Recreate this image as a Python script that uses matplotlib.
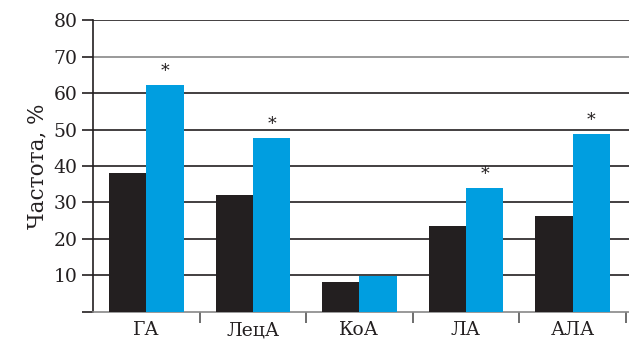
import matplotlib
matplotlib.use("Agg")
import matplotlib.pyplot as plt
import numpy as np

categories = ["ГА", "ЛецА", "КоА", "ЛА", "АЛА"]
group_a = [38, 32, 8, 23.5, 26.3]
group_b = [62.2, 47.8, 9.9, 34, 48.9]
significant = [True, True, False, True, True]
y_ticks = [0, 10, 20, 30, 40, 50, 60, 70, 80]
y_tick_labels = ["", "10", "20", "30", "40", "50", "60", "70", "80"]

plt.rcParams["font.family"] = ["DejaVu Serif"]
dark = "#231f20"
blue = "#009ee0"

fig = plt.figure(figsize=(6.29, 3.59), dpi=100)
ax = fig.add_axes([0.148, 0.132, 0.852, 0.811])

x = np.arange(len(categories))
w = 0.35
ax.bar(x - w / 2, group_a, width=w, color=dark, zorder=3)
ax.bar(x + w / 2, group_b, width=w, color=blue, zorder=3)

for xi, v, s in zip(x, group_b, significant):
    if s:
        ax.text(xi + w / 2, v + 1.4, "*", ha="center", va="bottom",
                fontsize=12.5, color=dark)

ax.set_xlim(-0.5, 4.53)
ax.set_ylim(0, 80)
ax.set_yticks(y_ticks)
ax.set_yticklabels(y_tick_labels, fontsize=13.5, color=dark)
ax.tick_params(axis="y", length=8, width=1.2, color=dark, pad=3)

ax.set_xticks(x)
ax.set_xticklabels(categories, fontsize=13.5, color=dark)
ax.set_xticks(np.arange(0.5, 5, 1), minor=True)
ax.tick_params(axis="x", which="major", length=0, pad=7)
ax.tick_params(axis="x", which="minor", length=8, width=1.2, color="#555555")

ax.yaxis.grid(True, color=dark, linewidth=1.2, zorder=1)
ax.set_axisbelow(True)
for line, t in zip(ax.get_ygridlines(), y_ticks):
    if t == 70:
        line.set_color("#888888")
    if t == 0:
        line.set_visible(False)

for side in ("top", "right"):
    ax.spines[side].set_visible(False)
ax.spines["left"].set_color(dark)
ax.spines["left"].set_linewidth(1.2)
ax.spines["bottom"].set_color("#888888")
ax.spines["bottom"].set_linewidth(1.2)

ax.set_ylabel("Частота, %", fontsize=15.5, color=dark, labelpad=4)

fig.savefig("out.png", dpi=100)
